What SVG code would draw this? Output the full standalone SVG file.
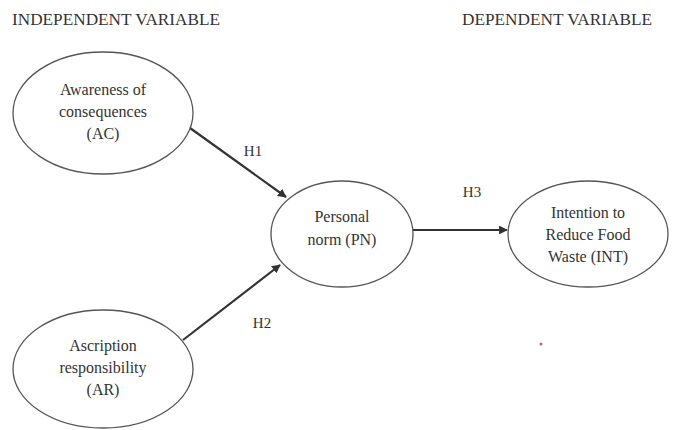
<svg xmlns="http://www.w3.org/2000/svg" width="678" height="430" viewBox="0 0 678 430">
<style>
.node ellipse{fill:#fff;stroke:#555;stroke-width:1.3}
text{font-family:"Liberation Serif","Times New Roman",serif;fill:#333}
.nt{font-size:16px;text-anchor:middle}
.hd{font-size:17px}
.lb{font-size:15px;text-anchor:middle}
.conn line{stroke:#333;stroke-width:2.2;marker-end:url(#ah)}
</style>
<defs>
<marker id="ah" viewBox="0 0 10 10" refX="9" refY="5" markerWidth="4" markerHeight="4" orient="auto" markerUnits="strokeWidth">
<path d="M0,0 L10,5 L0,10 z" fill="#333"/>
</marker>
</defs>
<rect width="678" height="430" fill="#fff"/>
<text class="hd" x="12" y="25" textLength="208" lengthAdjust="spacingAndGlyphs">INDEPENDENT VARIABLE</text>
<text class="hd" x="462" y="25" textLength="190" lengthAdjust="spacingAndGlyphs">DEPENDENT VARIABLE</text>
<g class="conn">
<line x1="190" y1="128" x2="286" y2="197"/>
<line x1="183" y1="340" x2="280" y2="265"/>
<line x1="413" y1="230" x2="507" y2="230"/>
</g>
<text class="lb" x="253" y="156">H1</text>
<text class="lb" x="262" y="328">H2</text>
<text class="lb" x="472" y="197">H3</text>
<g id="AC" class="node">
<ellipse cx="103" cy="113" rx="90" ry="61"/>
<text class="nt" x="103" y="95">Awareness of</text>
<text class="nt" x="103" y="117">consequences</text>
<text class="nt" x="103" y="139">(AC)</text>
</g>
<g id="AR" class="node">
<ellipse cx="103" cy="369" rx="90" ry="59"/>
<text class="nt" x="103" y="351">Ascription</text>
<text class="nt" x="103" y="373">responsibility</text>
<text class="nt" x="103" y="395">(AR)</text>
</g>
<g id="PN" class="node">
<ellipse cx="342" cy="234" rx="71" ry="53"/>
<text class="nt" x="342" y="222">Personal</text>
<text class="nt" x="342" y="245">norm (PN)</text>
</g>
<g id="INT" class="node">
<ellipse cx="588" cy="234" rx="80" ry="53"/>
<text class="nt" x="588" y="218">Intention to</text>
<text class="nt" x="588" y="240">Reduce Food</text>
<text class="nt" x="588" y="262">Waste (INT)</text>
</g>
<circle cx="541" cy="344" r="1.5" fill="#a07080"/>
</svg>
